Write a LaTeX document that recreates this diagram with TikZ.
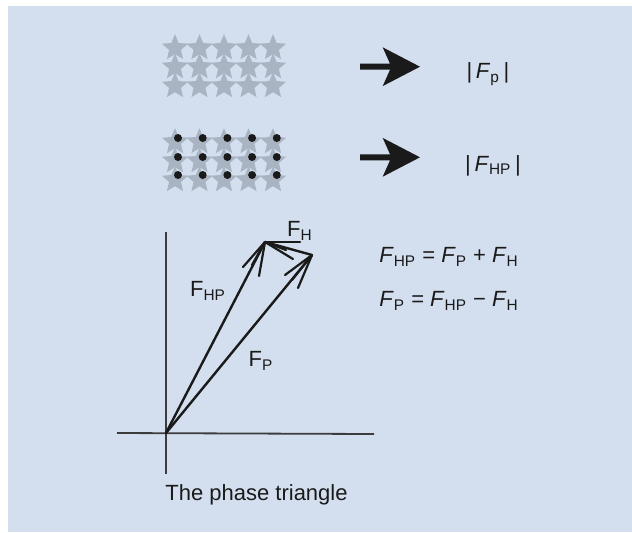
\documentclass[tikz,border=0pt]{standalone}
\usepackage{fontspec}
\setmainfont{Liberation Sans}
\usetikzlibrary{calc}
\definecolor{bgc}{HTML}{D3DFEF}
\definecolor{starc}{HTML}{A9B4C3}
\definecolor{inkc}{HTML}{1A1A1A}
\tikzset{
  vec/.style={draw=inkc, line width=1.2pt, line cap=round},
  barb/.style={draw=inkc, line width=1.1pt, line cap=round},
  axis/.style={draw=inkc!85, line width=0.9pt},
  lbl/.style={inner sep=0pt, font=\fontsize{11}{13}\selectfont, text=inkc},
  bigarrow/.style={fill=inkc},
  dotc/.style={fill=inkc}
}
\newcommand{\mystarat}[2]{%
  \fill[starc] (#1,#2) +(90:6.9pt) -- +(126:3.1pt) -- +(162:6.9pt) -- +(198:3.1pt)
   -- +(234:6.9pt) -- +(270:3.1pt) -- +(306:6.9pt) -- +(342:3.1pt)
   -- +(18:6.9pt) -- +(54:3.1pt) -- cycle;}
\begin{document}
\begin{tikzpicture}[x=0.5pt,y=-0.5pt]
\useasboundingbox (0,0) rectangle (632,532);
\fill[bgc] (8,6) rectangle (632,532);
% star grids
\foreach \cx in {175,199.5,224,248.5,273} {
  \foreach \cy in {48,67,86} { \mystarat{\cx}{\cy} }
  \foreach \cy in {142,161,180} { \mystarat{\cx}{\cy} }
}
\foreach \cx in {178,202.7,227.4,252.1,276.8} {
  \foreach \cy in {138,157,175} { \fill[dotc] (\cx,\cy) circle (2pt); }
}
% big arrows
\coordinate (a1) at (360,66.7);
\coordinate (a2) at (360,157.3);
\foreach \a in {a1,a2} {
  \fill[bigarrow] ($(\a)+(0,-3)$) -- ($(\a)+(30,-3)$) -- ($(\a)+(22.7,-19.4)$) -- ($(\a)+(60,0)$) -- ($(\a)+(22.7,19.4)$) -- ($(\a)+(30,3)$) -- ($(\a)+(0,3)$) -- cycle;
}
\node[lbl] (fp) at (488,74) {|\,\textit{F}\textsubscript{p}\,|};
\node[lbl] (fhp) at (493,166) {|\,\textit{F}\textsubscript{HP}\,|};
% phase triangle
\coordinate (O) at (166,433);
\coordinate (HP) at (265,242);
\coordinate (P) at (312,255);
\coordinate (vt) at (166,232);
\coordinate (vb) at (166,474);
\coordinate (hl) at (117,433);
\coordinate (hr) at (374,434);
\draw[axis] (vt) -- (vb);
\draw[axis] (hl) -- (hr);
\draw[vec] (O) -- (HP);
\draw[vec] (O) -- (P);
\draw[vec] (P) -- (HP);
% hand-drawn heads
\draw[barb] (HP) -- (243,267);
\draw[barb] (HP) -- (252,265);
\draw[barb] (HP) -- (259,276);
\draw[barb] (P) -- (285,275);
\draw[barb] (P) -- (292,280);
\draw[barb] (P) -- (298,288);
\draw[barb] (HP) -- (300,242);
\draw[barb] (HP) -- (293,259);
\draw[barb] (HP) -- (286,250);
\node[lbl] (lh) at (300,231) {F\textsubscript{H}};
\node[lbl] (lhp) at (208,291) {F\textsubscript{HP}};
\node[lbl] (lp) at (261,361) {F\textsubscript{P}};
\node[lbl, anchor=west] (e1) at (379,257) {\textit{F}\textsubscript{HP} = \textit{F}\textsubscript{P} + \textit{F}\textsubscript{H}};
\node[lbl, anchor=west] (e2) at (379,301) {\textit{F}\textsubscript{P} = \textit{F}\textsubscript{HP} − \textit{F}\textsubscript{H}};
\node[lbl] (cap) at (256.5,495) {The phase triangle};
\end{tikzpicture}
\end{document}
